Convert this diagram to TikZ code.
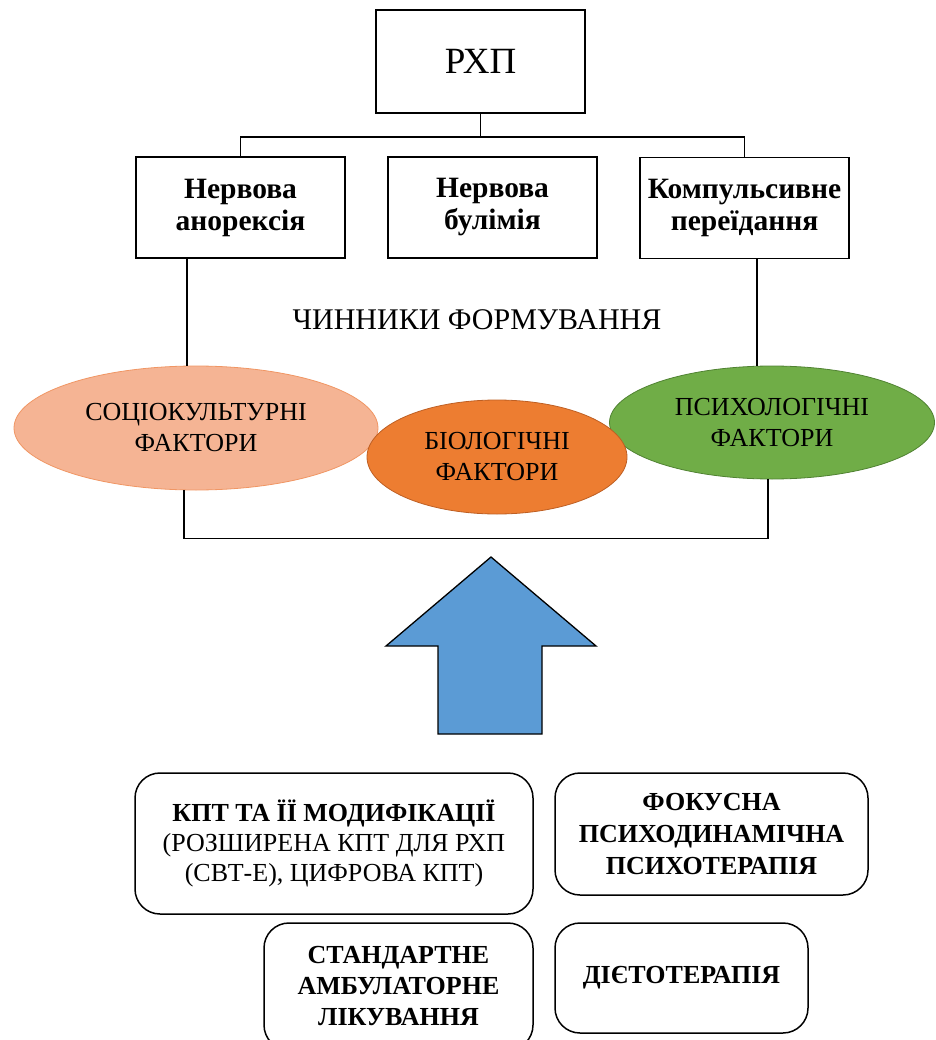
\documentclass[tikz,border=0pt]{standalone}
\usepackage{fontspec}
\setmainfont{Liberation Serif}
\usetikzlibrary{shapes.geometric,positioning}

\definecolor{peach}{RGB}{245,180,148}
\definecolor{peachline}{RGB}{240,150,100}
\definecolor{carrot}{RGB}{237,125,49}
\definecolor{carrotline}{RGB}{190,95,35}
\definecolor{leaf}{RGB}{112,173,71}
\definecolor{leafline}{RGB}{80,130,50}
\definecolor{arrowblue}{RGB}{91,155,213}

\tikzset{
    disorder/.style={draw, line width=1.6pt, inner sep=0pt, align=center,
        minimum width=209pt, minimum height=101pt,
        font=\bfseries\fontsize{29.5}{32}\selectfont},
    factor/.style={ellipse, draw, line width=0.8pt, inner sep=0pt, align=center,
        font=\fontsize{26}{31}\selectfont},
    method/.style={draw, line width=1.5pt, rounded corners=25pt, inner sep=0pt,
        align=center, font=\fontsize{26}{30}\selectfont},
    link/.style={line width=1.6pt}
}

\begin{document}
\begin{tikzpicture}[x=1pt,y=-1pt]
\useasboundingbox (0,0) rectangle (935,1040);

% top level
\node[disorder, minimum height=103pt, font=\fontsize{37}{40}\selectfont] (rhp) at (480.5,61.5) {РХП};

\node[disorder] (anor) at (240.5,207.5) {Нервова\\анорексія};
\node[disorder] (bul)  at (492.5,207.5) {Нервова\\булімія};
\node[disorder] (komp) at (744.5,208)   {Компульсивне\\переїдання};

\coordinate (fork) at ([yshift=-23pt]rhp.south);
\draw[link] (rhp.south) -- (fork);
\draw[link] (anor.north) |- (fork) -| (komp.north);

\node[font=\fontsize{30}{34}\selectfont] (chyn) at (477,320) {ЧИННИКИ ФОРМУВАННЯ};

% factors
\node[factor, fill=peach, draw=peachline, minimum width=364pt, minimum height=124pt]
    (soc) at (196,428) {СОЦІОКУЛЬТУРНІ\\ФАКТОРИ};
\node[factor, fill=leaf, draw=leafline, minimum width=325pt, minimum height=113pt]
    (psy) at (772,422.5) {ПСИХОЛОГІЧНІ\\ФАКТОРИ};
\node[factor, fill=carrot, draw=carrotline, minimum width=260pt, minimum height=114pt]
    (bio) at (497,457) {БІОЛОГІЧНІ\\ФАКТОРИ};

\draw[link] ([xshift=-9pt]soc.north |- anor.south) -- ([xshift=-9pt]soc.north);
\draw[link] ([xshift=-15pt]psy.north |- komp.south) -- ([xshift=-15pt]psy.north);
\draw[link] ([xshift=-12pt]soc.south) -- ++(0,48) -| ([xshift=-4pt]psy.south);

% big arrow
\draw[line width=1.3pt, fill=arrowblue, line join=miter]
    (491,557) -- (596,646) -- (542,646) -- (542,734)
    -- (438,734) -- (438,646) -- (386,646) -- cycle;

% methods
\node[method, minimum width=398pt, minimum height=141pt] (kpt) at (334,843.5)
    {\textbf{КПТ ТА ЇЇ МОДИФІКАЦІЇ}\\(РОЗШИРЕНА КПТ ДЛЯ РХП\\(СВТ-Е), ЦИФРОВА КПТ)};
\node[method, minimum width=313pt, minimum height=122pt, font=\bfseries\fontsize{26}{32}\selectfont]
    (fok) at (711.5,834) {ФОКУСНА\\ПСИХОДИНАМІЧНА\\ПСИХОТЕРАПІЯ};
\node[method, minimum width=269pt, minimum height=127pt, font=\bfseries\fontsize{26}{31}\selectfont]
    (stand) at (398.5,986.5) {СТАНДАРТНЕ\\АМБУЛАТОРНЕ\\ЛІКУВАННЯ};
\node[method, minimum width=253pt, minimum height=110pt, font=\bfseries\fontsize{26}{30}\selectfont]
    (diet) at (681.5,978) {ДІЄТОТЕРАПІЯ};

\end{tikzpicture}
\end{document}
